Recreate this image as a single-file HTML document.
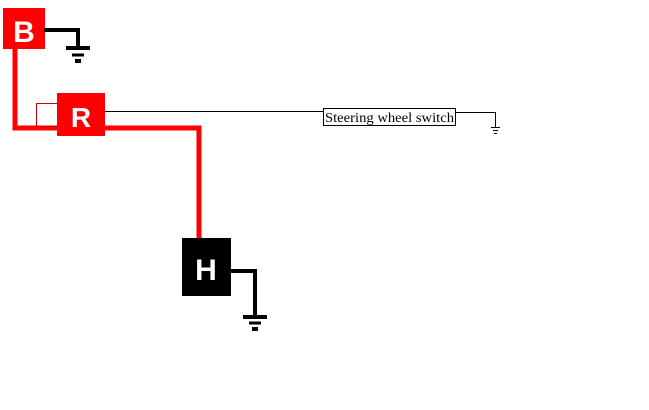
<!DOCTYPE html>
<html><head><style>
html,body{margin:0;padding:0;background:#fff;width:649px;height:410px;overflow:hidden}
svg{display:block}
</style></head><body>
<svg width="649" height="410" viewBox="0 0 649 410" xmlns="http://www.w3.org/2000/svg">
<polyline points="15,48 15,128 199,128 199,240" fill="none" stroke="#f00" stroke-width="5"/>
<rect x="36.5" y="103.5" width="21" height="23" fill="none" stroke="#c00" stroke-width="1"/>
<rect x="3" y="8" width="42" height="41" fill="#f00"/>
<text x="24" y="42" font-family="Liberation Sans, sans-serif" font-weight="bold" font-size="30" fill="#fff" text-anchor="middle">B</text>
<polyline points="44,30 78,30 78,48" fill="none" stroke="#000" stroke-width="4"/>
<line x1="66" y1="48" x2="90" y2="48" stroke="#000" stroke-width="4"/>
<line x1="72" y1="55" x2="84" y2="55" stroke="#000" stroke-width="3"/>
<line x1="75" y1="61" x2="81" y2="61" stroke="#000" stroke-width="4"/>
<rect x="57" y="93" width="48" height="43" fill="#f00"/>
<text x="81" y="127" font-family="Liberation Sans, sans-serif" font-weight="bold" font-size="28" fill="#fff" text-anchor="middle">R</text>
<line x1="105" y1="111.5" x2="324" y2="111.5" stroke="#000" stroke-width="1"/>
<rect x="323.5" y="108.5" width="132" height="17" fill="#fff" stroke="#000" stroke-width="1"/>
<text x="325" y="122" font-family="Liberation Serif, serif" font-size="14" fill="#000" textLength="129" lengthAdjust="spacingAndGlyphs">Steering wheel switch</text>
<polyline points="456,112.5 495.5,112.5 495.5,127" fill="none" stroke="#000" stroke-width="1"/>
<line x1="491" y1="127.5" x2="500" y2="127.5" stroke="#000" stroke-width="1"/>
<line x1="493" y1="130.5" x2="498" y2="130.5" stroke="#000" stroke-width="1"/>
<line x1="494" y1="133.5" x2="497" y2="133.5" stroke="#000" stroke-width="1"/>
<rect x="182" y="238" width="49" height="58" fill="#000"/>
<text x="206" y="280" font-family="Liberation Sans, sans-serif" font-weight="bold" font-size="30" fill="#fff" text-anchor="middle">H</text>
<polyline points="231,271 255,271 255,317" fill="none" stroke="#000" stroke-width="4"/>
<line x1="243" y1="317" x2="267" y2="317" stroke="#000" stroke-width="4"/>
<line x1="249" y1="323" x2="261" y2="323" stroke="#000" stroke-width="3"/>
<line x1="252" y1="329" x2="258" y2="329" stroke="#000" stroke-width="4"/>
</svg>
</body></html>
